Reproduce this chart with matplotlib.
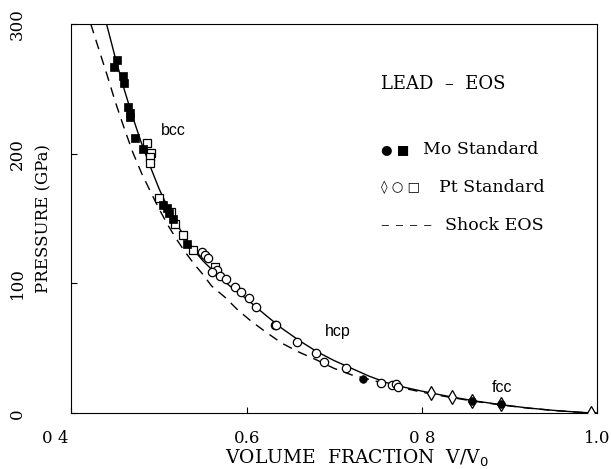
import matplotlib
matplotlib.use("Agg")
import matplotlib.pyplot as plt
import matplotlib.transforms as mtransforms

# fitted EOS curve (solid)
fit_v = [0.440, 0.450, 0.460, 0.470, 0.480, 0.490, 0.500, 0.510, 0.520, 0.530,
         0.540, 0.550, 0.565, 0.580, 0.600, 0.620, 0.640, 0.660, 0.680, 0.700,
         0.720, 0.740, 0.760, 0.780, 0.800, 0.830, 0.860, 0.890, 0.920, 0.950,
         0.980, 1.000]
fit_p = [300, 274, 250, 228, 208, 190, 173, 158.5, 146, 135,
         125.5, 117.5, 107.5, 98.5, 88, 76.5, 65.5, 56, 47.5, 40.5,
         34.5, 28.5, 23.5, 20, 17, 13, 9.5, 6.6, 4.1, 2.2,
         0.7, 0]

# shock EOS (dashed)
shock_v = [0.422, 0.430, 0.440, 0.450, 0.460, 0.470, 0.480, 0.490, 0.500, 0.510,
           0.520, 0.530, 0.540, 0.550, 0.560, 0.575, 0.590, 0.605, 0.620, 0.640,
           0.660, 0.680, 0.700, 0.720, 0.740, 0.760, 0.780, 0.800, 0.830, 0.860,
           0.890, 0.920, 0.950, 0.980, 1.000]
shock_p = [300, 283, 262, 240, 220, 201, 185, 171, 157.5, 145,
           134, 124, 115, 107, 98, 89.5, 79.5, 71, 63.5, 54,
           47, 41, 34.5, 29.5, 26, 22.5, 19.2, 16.2, 12.5, 9.2,
           6.4, 4.0, 2.1, 0.7, 0]

# Mo standard
mo_sq_v = [0.4525, 0.4486, 0.459, 0.4605, 0.4647, 0.4666, 0.467, 0.473, 0.4819,
           0.5047, 0.5085, 0.5115, 0.5154, 0.532]
mo_sq_p = [272, 267, 260, 254.6, 235.7, 228.5, 231, 211.8, 203.3,
           160.4, 157.8, 154.4, 149.3, 130.3]
mo_ci_v = [0.7326, 0.857, 0.890]
mo_ci_p = [26, 9.3, 6.7]

# Pt standard
pt_sq_v = [0.4857, 0.4906, 0.4895, 0.490, 0.500, 0.5131, 0.518, 0.5276, 0.539, 0.5638]
pt_sq_p = [208, 200.7, 197.7, 192.5, 165.5, 155, 145.7, 137.2, 125.7, 112.3]
pt_ci_v = [0.5486, 0.5523, 0.5561, 0.5657, 0.560, 0.5695, 0.577, 0.5866, 0.594,
           0.603, 0.611, 0.632, 0.634, 0.658, 0.679, 0.688, 0.7135, 0.7535,
           0.766, 0.771, 0.773]
pt_ci_p = [124.4, 121.8, 119.3, 110.3, 109, 105.6, 103.8, 97.4, 93.5,
           88.4, 81.5, 67.8, 68, 55, 46.5, 39.6, 34.5, 23,
           21.6, 22.4, 20.3]
pt_di_v = [0.810, 0.835, 0.857, 0.890, 0.993]
pt_di_p = [15.2, 12.1, 9.3, 6.7, 0.5]

xtick_vals = [0.4, 0.6, 0.8, 1.0]
xtick_labels = ["0 4", "0.6", "0 8", "1.0"]
ytick_vals = [0, 100, 200, 300]

serif = "DejaVu Serif"
sans = "Liberation Sans"

fig = plt.figure(figsize=(6.11, 4.69), dpi=100)
ax = fig.add_axes([0.117, 0.119, 0.860, 0.830])

ax.plot(fit_v, fit_p, color="black", lw=1.0, zorder=2)
ax.plot(shock_v, shock_p, color="black", lw=1.0, linestyle=(0, (7, 5)), zorder=2)

ms = 5.5
ax.plot(pt_sq_v, pt_sq_p, "s", ms=ms, mfc="white", mec="black", mew=0.9, zorder=3)
ax.plot(pt_ci_v, pt_ci_p, "o", ms=ms + 0.5, mfc="white", mec="black", mew=0.9, zorder=3)
ax.plot(pt_di_v, pt_di_p, "d", ms=ms + 1.5, mfc="white", mec="black", mew=0.9, zorder=3)
ax.plot(mo_sq_v, mo_sq_p, "s", ms=ms, color="black", mew=0.5, zorder=4)
ax.plot(mo_ci_v, mo_ci_p, "o", ms=ms, color="black", mew=0.5, zorder=4)

ax.set_xlim(0.4, 1.0)
ax.set_ylim(0, 300)
ax.set_xticks(xtick_vals)
ax.set_xticklabels(xtick_labels, fontfamily=serif, fontsize=12)
ax.set_yticks(ytick_vals)
ax.set_yticklabels([str(v) for v in ytick_vals], fontfamily=serif, fontsize=12,
                   rotation=90, va="center")
ax.tick_params(direction="in", length=4, width=0.8)
ax.tick_params(axis="x", pad=12)
ax.tick_params(axis="y", pad=33)
for s in ax.spines.values():
    s.set_linewidth(0.8)

# first x label sits a bit left of its tick in the original
first = ax.get_xticklabels()[0]
first.set_transform(first.get_transform() +
                    mtransforms.ScaledTranslation(-16 / 100, 0, fig.dpi_scale_trans))

ax.set_xlabel("VOLUME  FRACTION  V/V$_0$", fontfamily=serif, fontsize=13.5)
ax.xaxis.set_label_coords(0.543, -0.088)
ax.set_ylabel("PRESSURE (GPa)", fontfamily=serif, fontsize=12, va="center")
ax.yaxis.set_label_coords(-0.052, 0.5)

# phase labels
ax.text(0.516, 218, "bcc", fontfamily=sans, fontsize=11.5, ha="center", va="center")
ax.text(0.704, 63, "hcp", fontfamily=sans, fontsize=11.5, ha="center", va="center")
ax.text(0.892, 19.5, "fcc", fontfamily=sans, fontsize=11.5, ha="center", va="center")

# key
tr = ax.transAxes
kfs = 12.5
ax.text(0.589, 0.845, "LEAD  \u2013  EOS", transform=tr, fontfamily=serif, fontsize=13, va="center")
ax.text(0.589, 0.677, "\u25cf \u25a0", transform=tr, fontfamily="DejaVu Sans", fontsize=9.5, va="center")
ax.text(0.669, 0.677, "Mo Standard", transform=tr, fontfamily=serif, fontsize=kfs, va="center")
ax.text(0.589, 0.580, "\u25ca \u25cb \u25a1", transform=tr, fontfamily="DejaVu Sans", fontsize=9.5, va="center")
ax.text(0.700, 0.580, "Pt Standard", transform=tr, fontfamily=serif, fontsize=kfs, va="center")
ax.text(0.589, 0.482, "\u2013 \u2013 \u2013 \u2013", transform=tr, fontfamily=serif, fontsize=kfs, va="center")
ax.text(0.710, 0.482, "Shock EOS", transform=tr, fontfamily=serif, fontsize=kfs, va="center")

fig.savefig("out.png", dpi=100)
